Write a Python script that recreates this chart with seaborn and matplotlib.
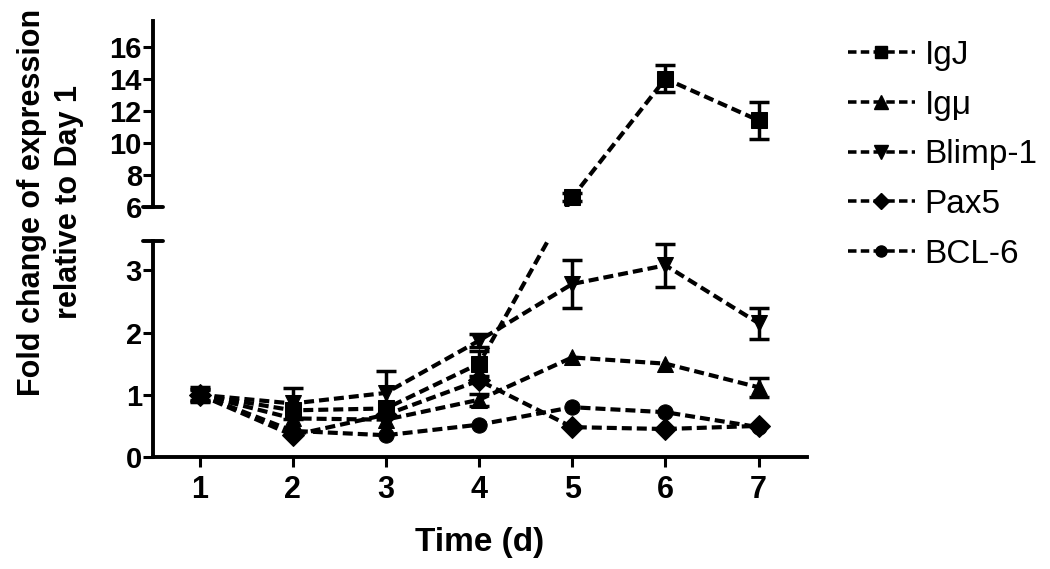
import numpy as np
import pandas as pd
import seaborn as sns
from matplotlib import pyplot as plt
from matplotlib.lines import Line2D

days = [1, 2, 3, 4, 5, 6, 7]
genes = ["IgJ", "Igμ", "Blimp-1", "Pax5", "BCL-6"]

igj = [1.0, 0.75, 0.78, 1.5, 6.6, 14.0, 11.4]
igmu = [1.0, 0.62, 0.6, 0.92, 1.6, 1.5, 1.12]
blimp1 = [1.0, 0.86, 1.03, 1.87, 2.78, 3.08, 2.15]
pax5 = [1.0, 0.35, 0.68, 1.23, 0.48, 0.45, 0.5]
bcl6 = [1.0, 0.42, 0.35, 0.52, 0.8, 0.72, 0.48]

igj_err = [0.12, 0.0, 0.0, 0.2, 0.25, 0.85, 1.15]
igmu_err = [0.08, 0.0, 0.0, 0.1, 0.0, 0.0, 0.15]
blimp1_err = [0.1, 0.25, 0.35, 0.1, 0.38, 0.35, 0.25]
pax5_err = [0.0, 0.0, 0.0, 0.0, 0.0, 0.0, 0.0]
bcl6_err = [0.0, 0.0, 0.0, 0.0, 0.0, 0.0, 0.0]

values = [igj, igmu, blimp1, pax5, bcl6]
errors = [igj_err, igmu_err, blimp1_err, pax5_err, bcl6_err]

data = pd.DataFrame({
    "day": days * len(genes),
    "value": sum(values, []),
    "err": sum(errors, []),
    "gene": [g for g in genes for _ in days],
})

markers = {"IgJ": "s", "Igμ": "^", "Blimp-1": "v", "Pax5": "D", "BCL-6": "o"}
sizes = {"IgJ": 10, "Igμ": 12, "Blimp-1": 12, "Pax5": 10, "BCL-6": 10}
DASH = (2.4, 1.2)
LW = 3.0

LO_LIM = (0, 3.47)
HI_LIM = (6, 17.6)

sns.set_style("ticks")
plt.rcParams["font.family"] = ["Liberation Sans", "DejaVu Sans"]
for key in ["text.color", "axes.labelcolor", "xtick.color", "ytick.color",
            "axes.edgecolor"]:
    plt.rcParams[key] = "black"

fig = plt.figure(figsize=(10.5, 5.69), dpi=100)
ax_lo = fig.add_axes([0.1457, 0.1968, 0.6229, 0.3796])
ax_hi = fig.add_axes([0.1457, 0.6362, 0.6229, 0.3269])
ax_lo.set_xlim(0.5, 7.52)
ax_hi.set_xlim(0.5, 7.52)
ax_lo.set_ylim(*LO_LIM)
ax_hi.set_ylim(*HI_LIM)


def map_between(v, src, dst):
    """y value of src axes expressed in dst axes data units (same screen spot)"""
    disp = src.transData.transform((1, v))
    return dst.transData.inverted().transform(disp)[1]


def line_data(ax):
    """values that fall into the other panel are moved so segments stay straight across the break"""
    d = data.copy()
    if ax is ax_lo:
        d["value"] = [map_between(v, ax_hi, ax_lo) if v > LO_LIM[1] else v
                      for v in d["value"]]
    else:
        d["value"] = [map_between(v, ax_lo, ax_hi) if v < HI_LIM[0] else v
                      for v in d["value"]]
    return d


def draw(ax):
    sns.lineplot(
        data=line_data(ax),
        x="day",
        y="value",
        style="gene",
        style_order=genes,
        markers=markers,
        dashes={g: DASH for g in genes},
        color="black",
        linewidth=LW,
        markersize=11,
        markeredgecolor="black",
        sort=False,
        errorbar=None,
        legend=False,
        ax=ax,
    )
    for gene in genes:
        sub = data[(data["gene"] == gene) & (data["err"] > 0)]
        ax.errorbar(
            sub["day"], sub["value"], yerr=sub["err"],
            fmt="none", ecolor="black", elinewidth=2.5,
            capsize=7, capthick=2.5, zorder=3,
        )
    ax.set_xlim(0.5, 7.52)
    ax.set_xlabel("")
    ax.set_ylabel("")
    for s in ["top", "right"]:
        ax.spines[s].set_visible(False)
    for s in ["left", "bottom"]:
        ax.spines[s].set_linewidth(2.8)
    ax.tick_params(width=2.2, length=7, pad=1, labelsize=21)


draw(ax_lo)
draw(ax_hi)

ax_lo.set_ylim(*LO_LIM)
ax_lo.set_yticks([0, 1, 2, 3])
ax_lo.set_xticks(days)
ax_lo.tick_params(axis="x", labelsize=22, pad=6)
ax_lo.set_xlabel("Time (d)", fontsize=24, fontweight="bold", labelpad=16)

ax_hi.set_ylim(*HI_LIM)
ax_hi.set_yticks([6, 8, 10, 12, 14, 16])
ax_hi.spines["bottom"].set_visible(False)
ax_hi.set_xticks([])

for ax in [ax_lo, ax_hi]:
    for lab in ax.get_xticklabels() + ax.get_yticklabels():
        lab.set_fontweight("bold")

# axis break caps
ax_lo.plot([-0.015, 0.015], [1, 1], transform=ax_lo.transAxes,
           color="black", lw=2.8, clip_on=False)
ax_hi.plot([-0.015, 0.015], [0, 0], transform=ax_hi.transAxes,
           color="black", lw=2.8, clip_on=False)

fig.text(0.048, 0.645, "Fold change of expression\nrelative to Day 1",
         rotation=90, ha="center", va="center", fontsize=22,
         fontweight="bold", linespacing=1.3, multialignment="center")

handles = [
    Line2D([], [], color="black", lw=LW * 0.85, dashes=DASH, marker=markers[g],
           markersize=sizes[g] * 0.8, markeredgecolor="black")
    for g in genes
]
fig.legend(handles, genes, loc="upper left",
           bbox_to_anchor=(848 / 1050, 1 - 40 / 569), frameon=False,
           borderpad=0, borderaxespad=0, fontsize=24, handlelength=2.0,
           handletextpad=0.3, labelspacing=0.56)

fig.savefig("out.png", dpi=100)
